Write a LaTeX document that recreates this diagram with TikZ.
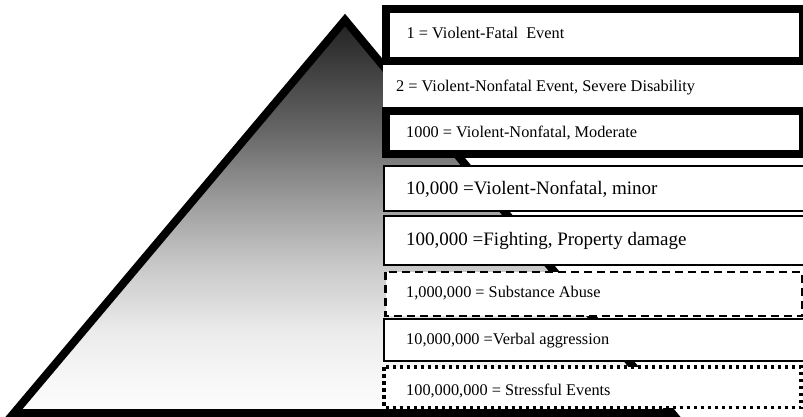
\documentclass[tikz,border=0pt]{standalone}
\usepackage{fontspec}
\setmainfont{Liberation Serif}
\definecolor{s0}{gray}{0.99}
\definecolor{s1}{gray}{0.97}
\definecolor{s2}{gray}{0.92}
\definecolor{s3}{gray}{0.78}
\definecolor{s4}{gray}{0.60}
\definecolor{s5}{gray}{0.40}
\definecolor{s6}{gray}{0.13}
\pgfdeclareverticalshading{pyr}{100bp}{color(0bp)=(s0); color(25bp)=(s0); color(29.2bp)=(s1); color(35.6bp)=(s2); color(44.1bp)=(s3); color(52.5bp)=(s4); color(61bp)=(s5); color(75bp)=(s6); color(100bp)=(s6)}
\tikzset{
  thickbox/.style={draw=black, fill=white, line width=8pt},
  plainbox/.style={draw=black, fill=white, line width=2.5pt},
  dashbox/.style={draw=black, fill=white, line width=2.5pt, dash pattern=on 8pt off 5pt},
  dotbox/.style={draw=black, fill=white, line width=3.5pt, dash pattern=on 3.5pt off 3.5pt},
  lbl/.style={inner sep=0pt, anchor=base west, font=\fontsize{16.3}{19}\selectfont},
  biglbl/.style={inner sep=0pt, anchor=base west, font=\fontsize{19}{22}\selectfont}
}
\begin{document}
\begin{tikzpicture}[x=1pt, y=-1pt]
\useasboundingbox (0,0) rectangle (803,417);
% pyramid
\coordinate (apex) at (345,20);
\coordinate (bl) at (14,413);
\coordinate (br) at (672,413);
\path[shading=pyr] (apex) -- (br) -- (bl) -- cycle;
\draw[line width=8pt, line join=miter] (apex) -- (br) -- (bl) -- cycle;
% boxes
\path[thickbox] (386,9) rectangle (802.5,61);
\path[fill=white] (383,65) rectangle (805,107);
\path[thickbox] (386,111) rectangle (802.5,154);
\path[plainbox] (384,166) rectangle (806,211);
\path[plainbox] (384,216) rectangle (806,265);
\path[dashbox] (385.5,272) rectangle (802,316);
\path[plainbox] (384,319) rectangle (806,361);
\path[dotbox] (384,367) rectangle (801,407.5);
% labels
\node[lbl] (t1) at (406.5,39) {1 = Violent-Fatal~ Event};
\node[lbl] (t2) at (396,92) {2 = Violent-Nonfatal Event, Severe Disability};
\node[lbl] (t3) at (406,138) {1000 = Violent-Nonfatal, Moderate};
\node[biglbl] (t4) at (406,194) {10,000 =Violent-Nonfatal, minor};
\node[biglbl] (t5) at (406,245) {100,000 =Fighting, Property damage};
\node[lbl] (t6) at (406,297) {1,000,000 = Substance Abuse};
\node[lbl] (t7) at (406,344) {10,000,000 =Verbal aggression};
\node[lbl] (t8) at (406,395) {100,000,000 = Stressful Events};
\end{tikzpicture}
\end{document}
